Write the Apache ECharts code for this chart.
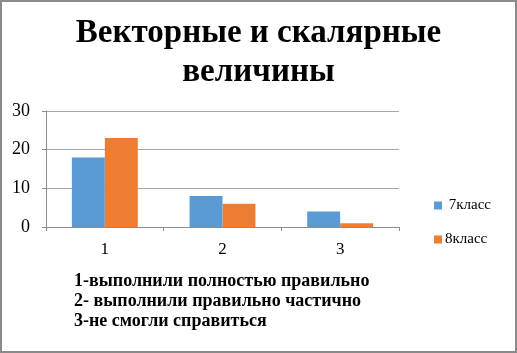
<!DOCTYPE html>
<html>
<head>
<meta charset="utf-8">
<script src="https://cdn.jsdelivr.net/npm/echarts@6/dist/echarts.min.js"></script>
<style>
html,body{margin:0;padding:0;background:#fff;overflow:hidden;}
#c{width:517px;height:353px;}
</style>
</head>
<body>
<div id="c"></div>
<script>
var titleText = 'Векторные и скалярные\nвеличины';
var categories = ['1', '2', '3'];
var seriesNames = [' 7класс', '8класс'];
var values7 = [18, 8, 4];
var values8 = [23, 6, 1];
var yTicks = [0, 10, 20, 30];
var notes = ['1-выполнили полностью правильно', '2- выполнили правильно частично', '3-не смогли справиться'];

var serif = '"Liberation Serif", "DejaVu Serif", serif';
var chart = echarts.init(document.getElementById('c'));
var option = {
  animation: false,
  backgroundColor: '#fff',
  title: {
    text: titleText,
    left: 'center',
    top: 9,
    textStyle: { fontFamily: serif, fontWeight: 'bold', fontSize: 33, lineHeight: 39, color: '#000' }
  },
  legend: {
    orient: 'vertical',
    left: 429,
    top: 193,
    itemWidth: 8,
    itemHeight: 8,
    itemGap: 19,
    icon: 'rect',
    data: seriesNames,
    textStyle: { fontFamily: serif, fontSize: 15, color: '#000', padding: [0, 0, 0, -2] }
  },
  grid: { left: 46, right: 118, top: 111, bottom: 126, containLabel: false },
  xAxis: {
    type: 'category',
    data: categories,
    axisLine: { lineStyle: { color: '#8c8c8c', width: 1 } },
    axisTick: { show: true, length: 4, lineStyle: { color: '#8c8c8c' } },
    axisLabel: { fontFamily: serif, fontSize: 17, color: '#000', margin: 14 }
  },
  yAxis: {
    type: 'value',
    min: yTicks[0],
    max: yTicks[yTicks.length - 1],
    interval: 10,
    axisLine: { show: true, lineStyle: { color: '#8c8c8c', width: 1 } },
    axisTick: { show: true, length: 4, lineStyle: { color: '#8c8c8c' } },
    axisLabel: { fontFamily: serif, fontSize: 18, color: '#000', margin: 16 },
    splitLine: { lineStyle: { color: '#a6a6a6', width: 1 } }
  },
  series: [
    { name: seriesNames[0], type: 'bar', data: values7, barGap: '0%', barCategoryGap: '44%', itemStyle: { color: '#5B9BD5' } },
    { name: seriesNames[1], type: 'bar', data: values8, barGap: '0%', barCategoryGap: '44%', itemStyle: { color: '#ED7D31' } }
  ],
  graphic: [
    { type: 'rect', shape: { x: 1, y: 1, width: 515, height: 351 }, style: { fill: 'none', stroke: '#8a8a8a', lineWidth: 2 }, z: 100, silent: true },
    { type: 'text', x: 74, y: 271, style: { text: notes.join('\n'), font: 'bold 18px ' + serif, lineHeight: 20, fill: '#000' } }
  ]
};
chart.setOption(option);
</script>
</body>
</html>
